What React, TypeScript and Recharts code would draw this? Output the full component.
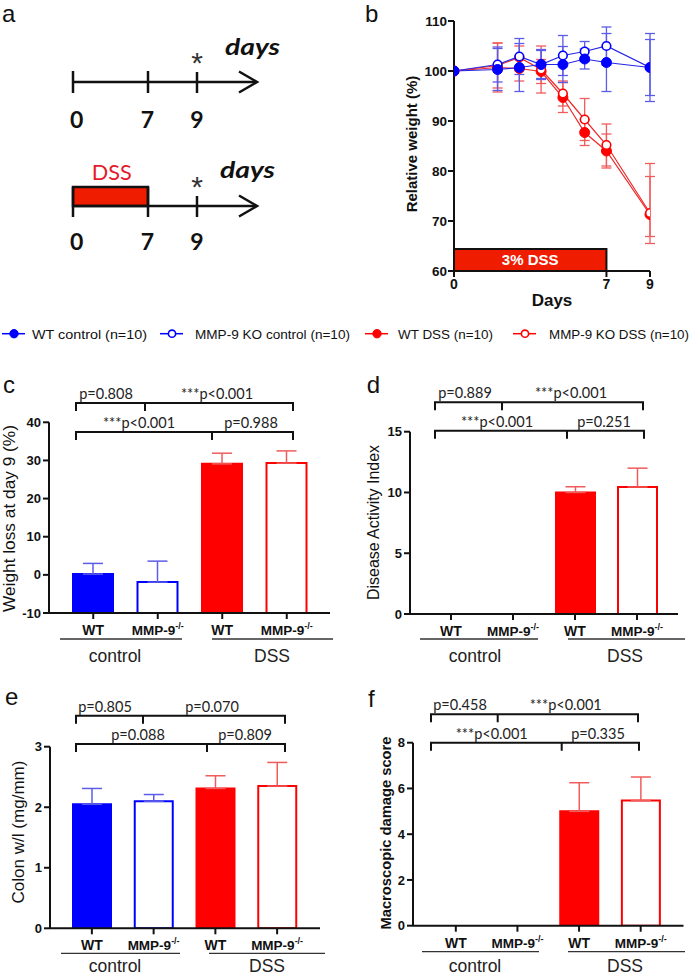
import React from 'react'
import { LineChart, Line, XAxis, YAxis, ErrorBar, ReferenceArea, BarChart, Bar, Cell } from 'recharts'

const SANS = '"Liberation Sans", Arial, sans-serif'
const CALI = 'Lato, "Open Sans", sans-serif'
const INK = '#111'
const BLUE = '#0000ff'
const RED = '#ff0000'
const BLUE_LINE = '#2626e6'
const RED_LINE = '#ee2a2a'
const BLUE_ERR = '#5c5ce8'
const RED_ERR = '#f05c5c'
const DSS_FILL = '#ef1c00'

// panel b: relative body weight (%) per day
const days = [0, 2, 3, 4, 5, 6, 7, 9]
const dayTicks = [0, 7, 9]
const weightTicks = [60, 70, 80, 90, 100, 110]
const wtControlWeight = [100, 100.3, 100.7, 101.3, 101.3, 102.4, 101.7, 100.7]
const wtControlSd = [0, 4.2, 4.8, 3.0, 3.6, 2.0, 5.8, 6.8]
const koControlWeight = [100, 101.3, 102.9, 101.3, 103.1, 103.9, 105.0, 100.7]
const koControlSd = [0, 3.5, 3.6, 2.8, 4.0, 2.0, 3.8, 5.6]
const wtDssWeight = [100, 100.7, 100.5, 99.9, 94.7, 87.7, 84.0, 71.3]
const wtDssSd: (number | number[])[] = [0, 4.9, 2.5, 2.4, 3.0, 2.6, 3.4, [5.8, 7.6]]
const koDssWeight = [100, 101.1, 102.7, 100.3, 95.5, 90.3, 85.2, 71.6]
const koDssSd: (number | number[])[] = [0, 4.5, 2.3, 4.7, 2.5, 4.2, 4.2, [4.7, 9.9]]
const dssStart = 0
const dssEnd = 7

const legendItems = [
  { key: 'wtControl', name: 'WT control (n=10)', color: BLUE, open: false },
  { key: 'koControl', name: 'MMP-9 KO control (n=10)', color: BLUE, open: true },
  { key: 'wtDss', name: 'WT DSS (n=10)', color: RED, open: false },
  { key: 'koDss', name: 'MMP-9 KO DSS (n=10)', color: RED, open: true },
]

// panels c-f: four groups
const barGroups = ['control', 'control', 'DSS', 'DSS']
const barGenotypes = ['WT', 'MMP-9', 'WT', 'MMP-9']

const weightLoss = [0.2, -1.9, 29.1, 29.3]
const weightLossSd = [2.8, 5.5, 2.8, 3.2]
const weightLossTicks = [-10, 0, 10, 20, 30, 40]
const weightLossP = ['p=0.808', '***p<0.001', '***p<0.001', 'p=0.988']

const daiScore = [0, 0, 10.0, 10.45]
const daiSd = [1.0, 1.25, 0.47, 1.55]
const daiTicks = [0, 5, 10, 15]
const daiP = ['p=0.889', '***p<0.001', '***p<0.001', 'p=0.251']

const colonRatio = [2.05, 2.1, 2.31, 2.35]
const colonSd = [0.26, 0.11, 0.21, 0.39]
const colonTicks = [0, 1, 2, 3]
const colonP = ['p=0.805', 'p=0.070', 'p=0.088', 'p=0.809']

const damageScore = [0, 0, 5.0, 5.47]
const damageSd = [0, 1.12, 1.25, 1.03]
const damageTicks = [0, 2, 4, 6, 8]
const damageP = ['p=0.458', '***p<0.001', '***p<0.001', 'p=0.335']

const AX = { stroke: INK, strokeWidth: 2 }
const XH = 30

const GenotypeTick = (props: any) => {
  const { x, y, payload } = props
  const wt = payload.value === 'WT'
  return (
    <text x={x} y={y + 14} textAnchor="middle" fontFamily={SANS} fontWeight={700} fontSize={wt ? 14 : 13.5} fill={INK}>
      {payload.value}
      {!wt && <tspan dy={-6} fontSize={9}>-/-</tspan>}
    </text>
  )
}

type Layout = {
  letter: string
  lx: number
  ly: number
  box: { left: number; top: number; width: number; height: number }
  plot: { l: number; r: number; t: number; b: number }
  pad: { left: number; right: number }
  barSize: number
  brackets: { y: number; xs: number[]; tx: number[] }[]
  lineY: number
  lines: number[][]
  groupY: number
  groupX: number[]
  yLabel: { text: string; x: number; cy: number; size: number; bold: boolean; len: number }
}

const layoutC: Layout = {
  letter: 'c', lx: 3, ly: 392.7,
  box: { left: 0, top: 395, width: 345, height: 260 },
  plot: { l: 49, r: 330, t: 422.3, b: 613 },
  pad: { left: 12, right: 11 }, barSize: 40,
  brackets: [
    { y: 403, xs: [76, 145, 293], tx: [106, 217] },
    { y: 432, xs: [76, 212, 293], tx: [139, 251] },
  ],
  lineY: 639, lines: [[60, 182], [212, 333]], groupY: 661.5, groupX: [115, 272],
  yLabel: { text: 'Weight loss at day 9 (%)', x: 15, cy: 518.5, size: 17, bold: false, len: 187 },
}
const layoutD: Layout = {
  letter: 'd', lx: 366.7, ly: 393,
  box: { left: 345, top: 395, width: 346, height: 260 },
  plot: { l: 410, r: 678, t: 431.7, b: 614 },
  pad: { left: 10, right: 10 }, barSize: 39,
  brackets: [
    { y: 402.3, xs: [435, 502, 643], tx: [465, 571] },
    { y: 430.7, xs: [435, 567, 644], tx: [497, 604] },
  ],
  lineY: 639, lines: [[420, 538], [568, 685]], groupY: 661.5, groupX: [475, 625],
  yLabel: { text: 'Disease Activity Index', x: 379, cy: 522.5, size: 16, bold: false, len: 155 },
}
const layoutE: Layout = {
  letter: 'e', lx: 5, ly: 704.5,
  box: { left: 0, top: 720, width: 345, height: 256 },
  plot: { l: 50, r: 320, t: 746.7, b: 928.3 },
  pad: { left: 11, right: 12 }, barSize: 38,
  brackets: [
    { y: 715.7, xs: [76, 143, 285], tx: [105, 212] },
    { y: 744, xs: [76, 207, 285], tx: [138, 245] },
  ],
  lineY: 953.3, lines: [[61, 180], [209, 325]], groupY: 972, groupX: [115, 267],
  yLabel: { text: 'Colon w/l (mg/mm)', x: 24, cy: 832, size: 17, bold: false, len: 143 },
}
const layoutF: Layout = {
  letter: 'f', lx: 368, ly: 706.7,
  box: { left: 345, top: 720, width: 346, height: 256 },
  plot: { l: 413, r: 683.5, t: 742.7, b: 925.7 },
  pad: { left: 12, right: 12 }, barSize: 38,
  brackets: [
    { y: 714.3, xs: [431, 497.7, 638], tx: [460, 565.7] },
    { y: 742.7, xs: [431, 561.7, 639], tx: [491.7, 598] },
  ],
  lineY: 951.7, lines: [[422, 539], [568, 685]], groupY: 971.5, groupX: [475, 625],
  yLabel: { text: 'Macroscopic damage score', x: 391, cy: 833, size: 15, bold: true, len: 193 },
}

const BarPanel = ({ values, sd, ticks, lay }: { values: number[]; sd: number[]; ticks: number[]; lay: Layout }) => {
  const lo = ticks[0]
  const hi = ticks[ticks.length - 1]
  const rows = barGenotypes.map((genotype, i) => {
    const ctrl = barGroups[i] === 'control'
    const bar = [lo, values[i]]
    const err = sd[i] ? [0, sd[i]] : null
    return {
      genotype,
      control: ctrl ? bar : null,
      dss: ctrl ? null : bar,
      controlSd: ctrl ? err : null,
      dssSd: ctrl ? null : err,
    }
  })
  const { box, plot } = lay
  const margin = {
    top: plot.t - box.top,
    right: box.left + box.width - plot.r,
    bottom: box.top + box.height - plot.b - XH,
    left: 0,
  }
  return (
    <div style={{ position: 'absolute', left: box.left, top: box.top }}>
      <BarChart width={box.width} height={box.height} data={rows} margin={margin}>
        <XAxis xAxisId="control" dataKey="genotype" height={XH} padding={lay.pad} axisLine={AX} tickLine={AX}
          tickSize={6} tickMargin={2} tick={<GenotypeTick />} interval={0} />
        <XAxis xAxisId="dss" dataKey="genotype" hide padding={lay.pad} />
        <YAxis width={plot.l - box.left} type="number" domain={[lo, hi]} ticks={ticks} allowDataOverflow interval={0}
          axisLine={AX} tickLine={AX} tickSize={6} tickMargin={2}
          tick={{ fontSize: 13, fontWeight: 700, fill: INK, fontFamily: SANS }} />
        <Bar xAxisId="control" dataKey="control" barSize={lay.barSize} isAnimationActive={false}>
          {rows.map((r, i) => (
            <Cell key={i} fill={barGenotypes[i] === 'WT' ? BLUE : '#fff'} stroke={BLUE} strokeWidth={2} />
          ))}
          <ErrorBar dataKey="controlSd" direction="y" width={10} stroke={BLUE_ERR} strokeWidth={1.5} />
        </Bar>
        <Bar xAxisId="dss" dataKey="dss" barSize={lay.barSize} isAnimationActive={false}>
          {rows.map((r, i) => (
            <Cell key={i} fill={barGenotypes[i] === 'WT' ? RED : '#fff'} stroke={RED} strokeWidth={2} />
          ))}
          <ErrorBar dataKey="dssSd" direction="y" width={10} stroke={RED_ERR} strokeWidth={1.5} />
        </Bar>
      </BarChart>
    </div>
  )
}

const BarNotes = ({ lay, p }: { lay: Layout; p: string[] }) => {
  const yl = lay.yLabel
  return (
    <g>
      <text x={lay.lx} y={lay.ly} fontSize={24} fontFamily={SANS} fill={INK}>{lay.letter}</text>
      <text transform={`translate(${yl.x},${yl.cy}) rotate(-90)`} textAnchor="middle" fontSize={yl.size}
        fontWeight={yl.bold ? 700 : 400} fontFamily={SANS} fill={INK} textLength={yl.len} lengthAdjust="spacingAndGlyphs">
        {yl.text}
      </text>
      {lay.brackets.map((b, j) => (
        <g key={j}>
          <path d={`M${b.xs[0]},${b.y + 8}V${b.y}H${b.xs[2]}V${b.y + 8}M${b.xs[1]},${b.y}V${b.y + 8}`}
            stroke={INK} strokeWidth={2} fill="none" />
          {b.tx.map((tx, k) => (
            <text key={k} x={tx} y={b.y - 4} textAnchor="middle" fontSize={14.5} fontFamily={CALI} fill="#222">
              {p[j * 2 + k]}
            </text>
          ))}
        </g>
      ))}
      {lay.lines.map((l, j) => (
        <line key={j} x1={l[0]} x2={l[1]} y1={lay.lineY} y2={lay.lineY} stroke="#333" strokeWidth={1.3} />
      ))}
      {['control', 'DSS'].map((g, j) => (
        <text key={g} x={lay.groupX[j]} y={lay.groupY} textAnchor="middle" fontSize={17.5} fontFamily={SANS} fill="#222">{g}</text>
      ))}
    </g>
  )
}

const WeightChart = () => {
  const rows = days.map((day, i) => ({
    day,
    wtControl: wtControlWeight[i], wtControlSd: wtControlSd[i],
    koControl: koControlWeight[i], koControlSd: koControlSd[i],
    wtDss: wtDssWeight[i], wtDssSd: wtDssSd[i],
    koDss: koDssWeight[i], koDssSd: koDssSd[i],
  }))
  const drawOrder = [legendItems[2], legendItems[3], legendItems[1], legendItems[0]]
  return (
    <div style={{ position: 'absolute', left: 330, top: 0 }}>
      <LineChart width={361} height={320} data={rows} margin={{ top: 21, right: 41, bottom: 19, left: 0 }}>
        <XAxis dataKey="day" type="number" domain={[0, 9]} ticks={dayTicks} allowDataOverflow interval={0} height={XH}
          axisLine={AX} tickLine={AX} tickSize={6} tickMargin={2}
          tick={{ fontSize: 14, fontWeight: 700, fill: INK, fontFamily: SANS }} />
        <YAxis type="number" domain={[60, 110]} ticks={weightTicks} allowDataOverflow interval={0} width={124}
          axisLine={AX} tickLine={AX} tickSize={6} tickMargin={1}
          tick={{ fontSize: 13.5, fontWeight: 700, fill: INK, fontFamily: SANS }} />
        <ReferenceArea x1={dssStart} x2={dssEnd} y1={60} y2={64.4} fill={DSS_FILL} fillOpacity={1} stroke={INK} strokeWidth={2}
          label={{ value: '3% DSS', position: 'center', fill: '#fff', fontSize: 15, fontWeight: 700, fontFamily: SANS }} />
        {drawOrder.map(s => {
          const lineColor = s.color === BLUE ? BLUE_LINE : RED_LINE
          const errColor = s.color === BLUE ? BLUE_ERR : RED_ERR
          return (
            <Line key={s.key} dataKey={s.key} type="linear" stroke={lineColor} strokeWidth={1.2} activeDot={false}
              isAnimationActive={false}
              dot={s.open
                ? { r: 4.3, fill: '#fff', stroke: s.color, strokeWidth: 1.6 }
                : { r: 5, fill: s.color, stroke: s.color, strokeWidth: 1 }}>
              <ErrorBar dataKey={s.key + 'Sd'} direction="y" width={5} stroke={errColor} strokeWidth={1.3} />
            </Line>
          )
        })}
      </LineChart>
    </div>
  )
}

const legendX = [{ m: 2, t: 32, w: 115 }, { m: 160, t: 195, w: 155 }, { m: 365, t: 398, w: 95 }, { m: 513, t: 549, w: 140 }]

const Legend = () => (
  <g>
    {legendItems.map((it, i) => {
      const lx = legendX[i]
      return (
        <g key={it.key}>
          <line x1={lx.m} x2={lx.m + 23} y1={333.7} y2={333.7} stroke={it.color} strokeWidth={1.5} />
          <circle cx={lx.m + 12} cy={333.7} r={it.open ? 3.6 : 4.2} fill={it.open ? '#fff' : it.color}
            stroke={it.color} strokeWidth={it.open ? 1.6 : 1} />
          <text x={lx.t} y={339} fontSize={13.4} fontFamily={SANS} fill={INK} textLength={lx.w} lengthAdjust="spacingAndGlyphs">
            {it.name}
          </text>
        </g>
      )
    })}
  </g>
)

const Timeline = ({ y, dss, base }: { y: number; dss: boolean; base: number }) => {
  const tx = [73, 148, 197]
  return (
    <g>
      {dss && <rect x={tx[0]} y={y - 19} width={tx[1] - tx[0]} height={19} fill={DSS_FILL} stroke={INK} strokeWidth={2.5} />}
      <line x1={tx[0]} x2={256} y1={y} y2={y} stroke={INK} strokeWidth={2.5} />
      <polyline points={`239,${y - 10.5} 257,${y} 239,${y + 10.5}`} fill="none" stroke={INK} strokeWidth={2.5} />
      <line x1={tx[0]} x2={tx[0]} y1={dss ? y - 19 : y - 11} y2={y + 11} stroke={INK} strokeWidth={2.5} />
      <line x1={tx[1]} x2={tx[1]} y1={dss ? y - 19 : y - 11} y2={y + 11} stroke={INK} strokeWidth={2.5} />
      <line x1={tx[2]} x2={tx[2]} y1={y - 10} y2={y + 11} stroke={INK} strokeWidth={2.5} />
      {['0', '7', '9'].map((d, i) => (
        <text key={d} x={[76.7, 147.5, 197][i]} y={base} textAnchor="middle" fontSize={23} fontWeight={700}
          fontFamily={CALI} fill={INK}>{d}</text>
      ))}
      <text x={197} y={y - 9.5} textAnchor="middle" fontSize={30} fontFamily={SANS} fill="#333">*</text>
      <text x={dss ? 220 : 225} y={dss ? 178 : 55} fontSize={22} fontWeight={700} fontStyle="italic" fontFamily={CALI}
        fill={INK} textLength={55} lengthAdjust="spacingAndGlyphs">days</text>
      {dss && (
        <text x={111.7} y={180} textAnchor="middle" fontSize={21} fontFamily={CALI} fill="#e41b2a" textLength={40}
          lengthAdjust="spacingAndGlyphs">DSS</text>
      )}
    </g>
  )
}

const App = () => (
  <div style={{ position: 'relative', width: 691, height: 976, background: '#fff', overflow: 'hidden' }}>
    <style>{'body{margin:0;}'}</style>
    <WeightChart />
    <BarPanel values={weightLoss} sd={weightLossSd} ticks={weightLossTicks} lay={layoutC} />
    <BarPanel values={daiScore} sd={daiSd} ticks={daiTicks} lay={layoutD} />
    <BarPanel values={colonRatio} sd={colonSd} ticks={colonTicks} lay={layoutE} />
    <BarPanel values={damageScore} sd={damageSd} ticks={damageTicks} lay={layoutF} />
    <svg width={691} height={976} style={{ position: 'absolute', left: 0, top: 0, pointerEvents: 'none' }}>
      <text x={2} y={21.7} fontSize={24} fontFamily={SANS} fill={INK}>a</text>
      <Timeline y={82} dss={false} base={128.3} />
      <Timeline y={206} dss base={250} />
      <text x={365} y={21.7} fontSize={24} fontFamily={SANS} fill={INK}>b</text>
      <text transform="translate(417,144) rotate(-90)" textAnchor="middle" fontSize={15} fontWeight={700}
        fontFamily={SANS} fill={INK}>Relative weight (%)</text>
      <text x={552} y={306} textAnchor="middle" fontSize={17} fontWeight={700} fontFamily={SANS} fill={INK}>Days</text>
      <Legend />
      <BarNotes lay={layoutC} p={weightLossP} />
      <BarNotes lay={layoutD} p={daiP} />
      <BarNotes lay={layoutE} p={colonP} />
      <BarNotes lay={layoutF} p={damageP} />
    </svg>
  </div>
)

export default App
